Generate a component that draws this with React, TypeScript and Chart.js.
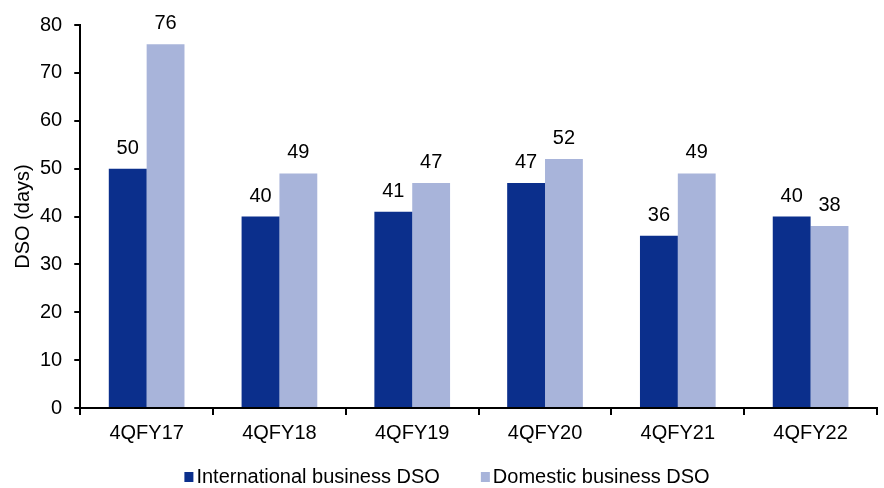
import React, { useEffect, useRef } from "react";
import { Chart, registerables } from "chart.js";

Chart.register(...registerables);

const categories = ["4QFY17", "4QFY18", "4QFY19", "4QFY20", "4QFY21", "4QFY22"];
const internationalDSO = [50, 40, 41, 47, 36, 40];
const domesticDSO = [76, 49, 47, 52, 49, 38];
const seriesNames = ["International business DSO", "Domestic business DSO"];
const seriesColors = ["#0B2F8C", "#A8B4DA"];
const yTitle = "DSO (days)";

const FONT = "Arial, 'Liberation Sans', sans-serif";

const labelPlugin = {
  id: "barLabels",
  afterDatasetsDraw(chart: any) {
    const ctx = chart.ctx;
    ctx.save();
    ctx.font = `20px ${FONT}`;
    ctx.fillStyle = "#000";
    ctx.textAlign = "center";
    ctx.textBaseline = "alphabetic";
    chart.data.datasets.forEach((ds: any, i: number) => {
      const meta = chart.getDatasetMeta(i);
      meta.data.forEach((el: any, j: number) => {
        ctx.fillText(String(ds.data[j]), el.x, el.y - 15);
      });
    });
    ctx.restore();
  },
};

const yTitlePlugin = {
  id: "yTitle",
  afterDraw(chart: any) {
    const ctx = chart.ctx;
    const area = chart.chartArea;
    ctx.save();
    ctx.font = `20px ${FONT}`;
    ctx.fillStyle = "#000";
    ctx.textAlign = "center";
    ctx.textBaseline = "middle";
    ctx.translate(23, (area.top + area.bottom) / 2);
    ctx.rotate(-Math.PI / 2);
    ctx.fillText(yTitle, 0, 0);
    ctx.restore();
  },
};

const legendPlugin = {
  id: "customLegend",
  afterDraw(chart: any) {
    const ctx = chart.ctx;
    ctx.save();
    ctx.font = `20px ${FONT}`;
    ctx.textBaseline = "middle";
    ctx.textAlign = "left";
    const box = 9;
    const gapBox = 3;
    const gapItem = 41;
    const items = chart.data.datasets.map((ds: any) => ({
      text: ds.label,
      color: ds.backgroundColor,
      w: ctx.measureText(ds.label).width,
    }));
    const total = items.reduce((s: number, it: any) => s + box + gapBox + it.w, 0) + gapItem * (items.length - 1);
    let x = chart.width / 2 + 5 - total / 2;
    const y = chart.height - 11;
    items.forEach((it: any) => {
      ctx.fillStyle = it.color;
      ctx.fillRect(x, y - 5, box, 10);
      x += box + gapBox;
      ctx.fillStyle = "#000";
      ctx.fillText(it.text, x, y);
      x += it.w + gapItem;
    });
    ctx.restore();
  },
};

export default function App() {
  const ref = useRef<HTMLCanvasElement>(null);
  useEffect(() => {
    if (!ref.current) return;
    const chart = new Chart(ref.current, {
      type: "bar",
      data: {
        labels: categories,
        datasets: [
          {
            label: seriesNames[0],
            data: internationalDSO,
            backgroundColor: seriesColors[0],
            barPercentage: 1,
            categoryPercentage: 0.57,
          },
          {
            label: seriesNames[1],
            data: domesticDSO,
            backgroundColor: seriesColors[1],
            barPercentage: 1,
            categoryPercentage: 0.57,
          },
        ],
      },
      options: {
        animation: false,
        responsive: false,
        layout: { padding: { left: 28, right: 7, top: 25, bottom: 37 } },
        plugins: {
          legend: { display: false },
          tooltip: { enabled: false },
        },
        scales: {
          x: {
            grid: {
              display: true,
              drawOnChartArea: false,
              drawTicks: true,
              tickLength: 7,
              color: "#000",
              lineWidth: 2,
              offset: true,
            },
            border: { display: true, color: "#000", width: 2 },
            ticks: { color: "#000", font: { size: 20, family: FONT }, padding: 6 },
          },
          y: {
            min: 0,
            max: 80,
            grid: {
              display: true,
              drawOnChartArea: false,
              drawTicks: true,
              tickLength: 6,
              color: "#000",
              lineWidth: 2,
            },
            border: { display: true, color: "#000", width: 2 },
            ticks: { stepSize: 10, color: "#000", font: { size: 20, family: FONT }, padding: 12 },
          },
        },
      },
      plugins: [labelPlugin, yTitlePlugin, legendPlugin],
    });
    return () => chart.destroy();
  }, []);
  return (
    <div style={{ position: "absolute", left: 0, top: 0, width: 884, height: 488, background: "#fff" }}>
      <canvas ref={ref} width={884} height={488} />
    </div>
  );
}
